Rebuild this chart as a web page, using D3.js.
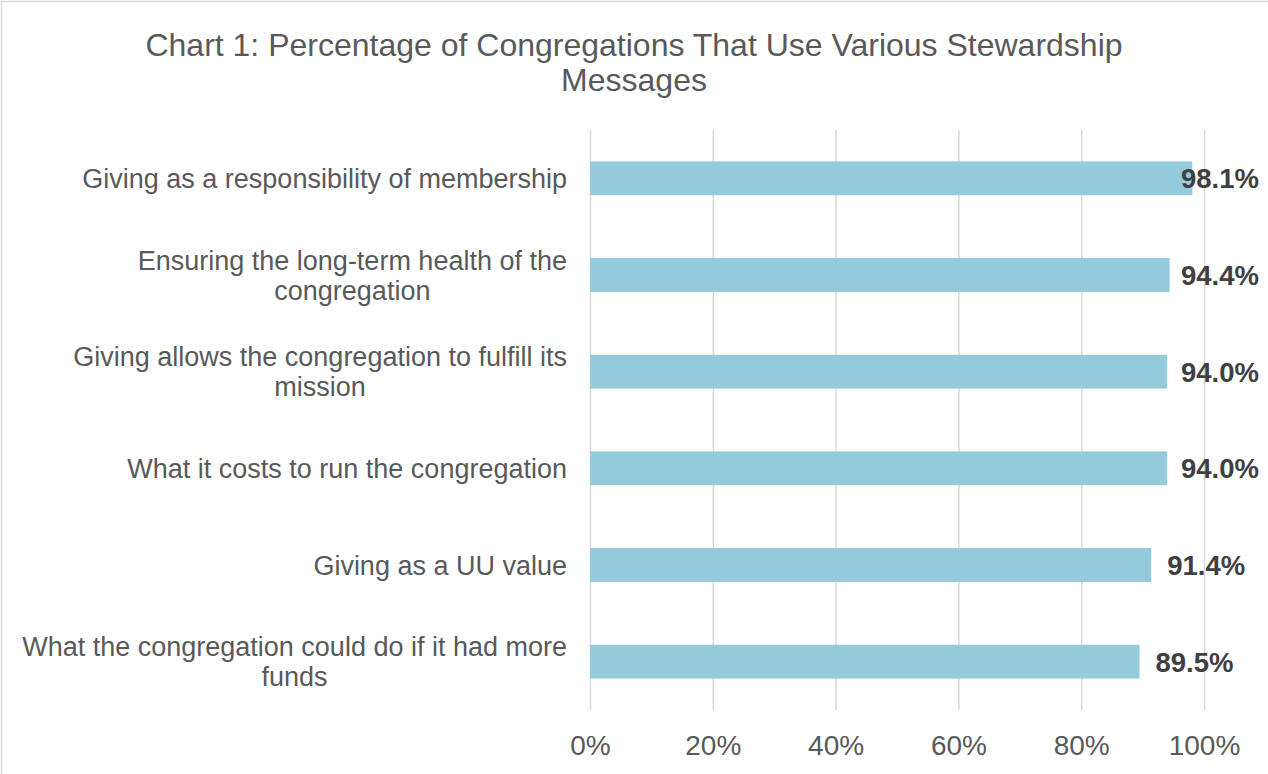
<!DOCTYPE html>
<html>
<head>
<meta charset="utf-8">
<script src="https://cdn.jsdelivr.net/npm/d3@7"></script>
<style>
  body { margin: 0; background: #fff; }
  svg { display: block; font-family: "Liberation Sans", Arial, sans-serif; }
</style>
</head>
<body>
<svg id="chart" width="1268" height="774"></svg>
<script>
// chart data
const titleLines = ["Chart 1: Percentage of Congregations That Use Various Stewardship", "Messages"];
const categories = [
    "Giving as a responsibility of membership",
    "Ensuring the long-term health of the\ncongregation",
    "Giving allows the congregation to fulfill its\nmission",
    "What it costs to run the congregation",
    "Giving as a UU value",
    "What the congregation could do if it had more\nfunds"
];
const values = [0.981, 0.944, 0.940, 0.940, 0.914, 0.895];
const tickValues = [0, 0.2, 0.4, 0.6, 0.8, 1.0];

const svg = d3.select("#chart");
const W = 1268, H = 774;
const plot = {left: 590, right: 1204, top: 130, bottom: 710};

// outer border (only top/left show in the reference)
svg.append("rect")
    .attr("x", 1.5).attr("y", 1.5)
    .attr("width", W + 20).attr("height", H + 20)
    .attr("fill", "#fff")
    .attr("stroke", "#d9d9d9")
    .attr("stroke-width", 1.5);

let x = d3.scaleLinear().domain([0, 1]).range([plot.left, plot.right]);
let y = d3.scaleBand()
    .domain(categories)
    .range([plot.top, plot.bottom])
    .paddingInner(0.65)
    .paddingOuter(0.325);

// title
svg.append("text")
    .attr("x", 634)
    .attr("text-anchor", "middle")
    .attr("fill", "#595959")
    .style("font-size", "32px")
    .selectAll("tspan")
    .data(titleLines)
    .join("tspan")
    .attr("x", 634)
    .attr("y", (d, i) => 56 + i * 35)
    .text(d => d);

// gridlines + tick labels from one axis
let xAxis = d3.axisBottom(x)
    .tickValues(tickValues)
    .tickFormat(d3.format(".0%"))
    .tickSizeInner(-(plot.bottom - plot.top))
    .tickSizeOuter(0)
    .tickPadding(25);

let gx = svg.append("g")
    .attr("transform", "translate(0," + plot.bottom + ")")
    .call(xAxis);
gx.select(".domain").remove();
gx.selectAll(".tick line").attr("stroke", "#d9d9d9").attr("stroke-width", 1.5);
gx.selectAll(".tick text")
    .attr("fill", "#595959")
    .style("font-size", "28px")
    .style("font-family", "'Liberation Sans', Arial, sans-serif");

// bars
svg.append("g").selectAll("rect")
    .data(categories)
    .join("rect")
    .attr("x", x(0))
    .attr("y", d => y(d))
    .attr("width", (d, i) => x(values[i]) - x(0))
    .attr("height", y.bandwidth())
    .attr("fill", "#94cbdc");

// category labels, block right-aligned, lines centered within the block
const labelRight = 567;
let labels = svg.append("g").selectAll("text")
    .data(categories)
    .join("text")
    .attr("fill", "#595959")
    .attr("text-anchor", "middle")
    .style("font-size", "27px");

labels.each(function (d) {
    let lines = d.split("\n");
    let t = d3.select(this);
    let cy = y(d) + y.bandwidth() / 2;
    let spans = t.selectAll("tspan")
        .data(lines)
        .join("tspan")
        .attr("y", (l, i) => cy + 9.5 + (i - (lines.length - 1) / 2) * 30)
        .text(l => l);
    let maxW = d3.max(spans.nodes(), n => n.getComputedTextLength());
    spans.attr("x", labelRight - maxW / 2);
});

// value labels, kept inside the right edge
const valueRightLimit = 1259;
svg.append("g").selectAll("text")
    .data(categories)
    .join("text")
    .attr("fill", "#404040")
    .style("font-size", "27.5px")
    .style("font-weight", "bold")
    .attr("y", d => y(d) + y.bandwidth() / 2 + 10)
    .text((d, i) => d3.format(".1%")(values[i]))
    .attr("x", function (d, i) {
        let w = this.getComputedTextLength();
        return Math.min(x(values[i]) + 16, valueRightLimit - w);
    });
</script>
</body>
</html>
